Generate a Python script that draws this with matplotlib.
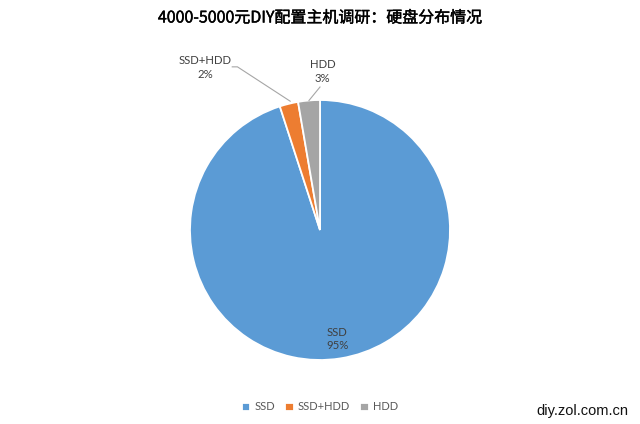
import numpy as np
import matplotlib
matplotlib.use("Agg")
import matplotlib.pyplot as plt
import matplotlib.patheffects as pe

categories = ["SSD", "SSD+HDD", "HDD"]
values = [95.0, 2.3, 2.7]
colors = ["#5B9BD5", "#ED7D31", "#A5A5A5"]
title = "4000-5000元DIY配置主机调研：硬盘分布情况"
watermark = "diy.zol.com.cn"

W, H, DPI = 640, 424, 100
fig = plt.figure(figsize=(W / DPI, H / DPI), dpi=DPI)
fig.patch.set_facecolor("white")

R = 130.0  # pixels per unit radius
cx, cy = 320.0, 230.0  # pie centre in pixels (from top)
ax = fig.add_axes([0, 0, 1, 1])
wedges, _ = ax.pie(values, colors=colors, startangle=90, counterclock=False,
                   wedgeprops=dict(edgecolor="white", linewidth=1.3), radius=1.0)
ax.set_xlim(-cx / R, (W - cx) / R)
ax.set_ylim(-(H - cy) / R, cy / R)
ax.set_aspect("auto")
ax.axis("off")

lab_font = dict(family=["Lato", "DejaVu Sans"], fontsize=8.2, color="#404040")
total = sum(values)
pct = [f"{v / total * 100:.0f}%" for v in values]

# SSD label inside
w = wedges[0]
mid = np.deg2rad((w.theta1 + w.theta2) / 2)
ax.text(0.85 * np.cos(mid), 0.85 * np.sin(mid), f"{categories[0]}\n{pct[0]}",
        ha="center", va="center", linespacing=1.25, **lab_font)

# SSD+HDD label outside with leader
w = wedges[1]
mid = np.deg2rad((w.theta1 + w.theta2) / 2)
ex, ey = 1.0 * np.cos(mid), 1.0 * np.sin(mid)
tx, ty = -0.885, 1.25
ax.text(tx, ty, f"{categories[1]}\n{pct[1]}", ha="center", va="center",
        linespacing=1.25, **lab_font)
ax.plot([tx + 0.21, tx + 0.25, ex + 0.01], [ty + 0.005, ty + 0.005, ey + 0.02],
        color="#A6A6A6", lw=0.8)

# HDD label outside with leader
w = wedges[2]
mid = np.deg2rad((w.theta1 + w.theta2) / 2)
ex, ey = 1.0 * np.cos(mid), 1.0 * np.sin(mid)
tx, ty = 0.02, 1.22
ax.text(tx, ty, f"{categories[2]}\n{pct[2]}", ha="center", va="center",
        linespacing=1.25, **lab_font)
ax.plot([ex, tx - 0.02], [ey, ty - 0.12], color="#A6A6A6", lw=0.8)

fig.text(0.5, 1 - 18 / H, title, ha="center", va="center", fontsize=11.5,
         family=["Noto Sans CJK SC", "DejaVu Sans"], color="#000000",
         path_effects=[pe.withStroke(linewidth=0.3, foreground="#000000")])

leg = fig.legend(wedges, categories, loc="center", bbox_to_anchor=(0.5, 1 - 407 / H),
                 ncol=3, frameon=False, handlelength=0.75, handleheight=0.75,
                 handletextpad=0.4, columnspacing=0.9,
                 prop=dict(family=["Lato", "DejaVu Sans"], size=8))
for t in leg.get_texts():
    t.set_color("#595959")

fig.text(1 - 12 / W, 1 - 411 / H, watermark, ha="right", va="center", fontsize=10.5,
         family=["Liberation Sans", "DejaVu Sans"], color="#111111")

fig.savefig("out.png", dpi=DPI)
